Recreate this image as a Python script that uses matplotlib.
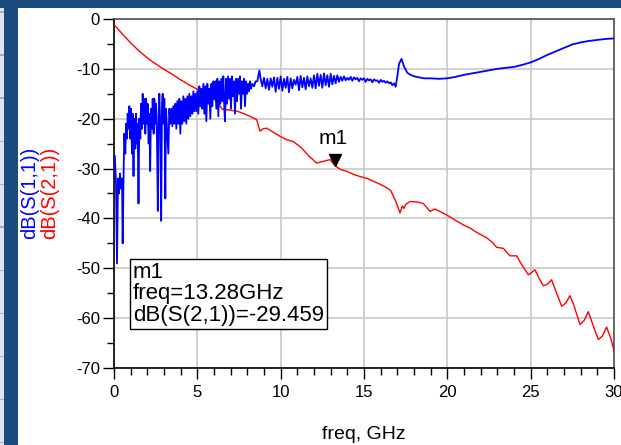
import numpy as np
import matplotlib
matplotlib.use("Agg")
import matplotlib.pyplot as plt
from matplotlib.patches import Rectangle
from matplotlib.ticker import MultipleLocator

plt.rcParams["font.family"] = ["Liberation Sans", "DejaVu Sans"]
plt.rcParams["axes.unicode_minus"] = False

# S(2,1) trace (freq GHz, dB)
s21_freq = [0.05, 0.5, 1.0, 1.5, 2.0, 2.5, 3.0, 3.5, 4.0, 4.5, 5.0, 5.5, 5.8, 6.2,
            6.5, 7.0, 7.4, 7.8, 8.2, 8.56, 8.76, 8.95, 9.16, 9.6, 10.0, 10.36,
            10.76, 11.2, 11.7, 12.16, 12.5, 12.96, 13.28, 13.6, 14.0, 14.4, 14.76,
            15.2, 15.6, 16.0, 16.3, 16.6, 16.9, 17.16, 17.3, 17.4, 17.5, 17.76,
            18.2, 18.56, 18.96, 19.26, 19.96, 20.5, 20.96, 21.4, 21.76, 22.1,
            22.36, 22.7, 22.96, 23.36, 23.76, 24.16, 24.5, 24.86, 25.0, 25.26,
            25.5, 25.76, 26.0, 26.26, 26.5, 26.86, 27.1, 27.36, 27.6, 27.96,
            28.2, 28.46, 28.75, 29.06, 29.3, 29.56, 29.8, 30.0]
s21_db = [-1.3, -3.0, -4.8, -6.4, -7.8, -9.0, -10.1, -11.1, -12.2, -13.2, -14.1,
          -15.2, -15.6, -16.6, -18.1, -18.3, -18.5, -19.0, -19.6, -20.2, -22.5,
          -22.0, -21.9, -22.8, -23.6, -24.2, -24.6, -25.7, -27.5, -28.9, -28.6,
          -28.2, -29.459, -30.2, -30.6, -31.2, -31.6, -32.0, -32.6, -33.2, -33.7,
          -34.4, -36.5, -38.9, -37.5, -38.0, -37.2, -36.6, -36.7, -37.0, -38.6,
          -38.1, -39.3, -40.4, -41.3, -42.0, -42.8, -43.4, -43.9, -44.8, -45.8,
          -46.0, -47.5, -47.5, -49.5, -51.3, -51.0, -50.3, -52.0, -53.5, -53.2,
          -52.3, -54.5, -57.6, -57.0, -55.5, -57.5, -61.3, -60.5, -58.7, -61.5,
          -64.3, -63.6, -61.8, -64.0, -66.5]

# S(1,1) trace (freq GHz, dB)
s11_freq = [0.05, 0.12, 0.18, 0.24, 0.30, 0.36, 0.42, 0.48, 0.52, 0.58, 0.62, 0.68,
            0.72, 0.78, 0.82, 0.88, 0.92, 0.98, 1.02, 1.08, 1.12, 1.17, 1.22, 1.28,
            1.32, 1.38, 1.42, 1.47, 1.52, 1.58, 1.62, 1.68, 1.72, 1.78, 1.82, 1.88,
            1.92, 1.98, 2.02, 2.08, 2.12, 2.17, 2.22, 2.28, 2.32, 2.38, 2.42, 2.48,
            2.52, 2.58, 2.63, 2.68, 2.72, 2.78, 2.83, 2.88, 2.92, 2.98, 3.02, 3.08,
            3.12, 3.18, 3.26, 3.32, 3.38, 3.44, 3.50, 3.56, 3.62, 3.68, 3.74, 3.80,
            3.86, 3.92, 3.98, 4.04, 4.10, 4.16, 4.22, 4.28, 4.34, 4.40, 4.46, 4.52,
            4.58, 4.64, 4.70, 4.76, 4.82, 4.88, 4.94, 5.00, 5.06, 5.12, 5.18, 5.24,
            5.30, 5.36, 5.42, 5.48, 5.54, 5.60, 5.66, 5.72, 5.78, 5.84, 5.90, 5.96,
            6.02, 6.08, 6.14, 6.20, 6.26, 6.32, 6.38, 6.44, 6.50, 6.56, 6.62, 6.66,
            6.72, 6.78, 6.84, 6.90, 6.96, 7.02, 7.08, 7.14, 7.20, 7.26, 7.32, 7.38,
            7.44, 7.50, 7.56, 7.62, 7.68, 7.74, 7.80, 7.86, 7.92, 7.98, 8.04, 8.10,
            8.16, 8.22, 8.30, 8.40, 8.50, 8.60, 8.72, 8.80,
            8.90, 9.00, 9.10, 9.20, 9.30, 9.40, 9.50, 9.60, 9.70, 9.80, 9.90, 10.00,
            10.10, 10.20, 10.30, 10.40, 10.50, 10.60, 10.70, 10.80, 10.90, 11.00,
            11.10, 11.20, 11.30, 11.40, 11.50, 11.60, 11.70, 11.80, 11.90, 12.00,
            12.10, 12.20, 12.30, 12.40, 12.50, 12.60, 12.70, 12.80, 12.90, 13.00,
            13.10, 13.20, 13.30, 13.40, 13.50, 13.60, 13.70, 13.80, 13.90, 14.00,
            14.10, 14.20, 14.30, 14.40, 14.50, 14.60, 14.70, 14.80, 14.90, 15.00,
            15.10, 15.20, 15.30, 15.40, 15.50, 15.60, 15.70, 15.80, 15.90, 16.00,
            16.10, 16.20, 16.30, 16.40, 16.50, 16.60, 16.70, 16.80, 16.90,
            17.0, 17.1, 17.25, 17.4, 17.6, 17.8, 18.0, 18.3, 18.6, 19.0, 19.5, 20.0,
            20.5, 21.0, 21.5, 22.0, 22.5, 23.0, 23.5, 24.0, 24.5, 25.0, 25.5, 26.0,
            26.5, 27.0, 27.5, 28.0, 28.5, 29.0, 29.5, 30.0]
s11_db = [-27.5, -33, -49, -32, -35, -31, -34, -32, -45, -30, -23, -27,
          -21, -24, -19, -22, -17.5, -24, -18, -27, -19, -31.5, -20, -26,
          -19, -25, -21, -37, -20, -24, -17, -22, -15, -21, -16, -23,
          -16, -21, -17, -25, -19, -30.5, -18, -22, -16, -23, -16, -21,
          -17, -24, -38.5, -19, -15, -22, -40.5, -17, -15, -21, -16, -36,
          -18, -22, -27, -18, -21, -18, -21.5, -17.5, -21, -17, -22, -16.5,
          -21, -16, -23, -16.5, -21, -15.5, -20.5, -16, -21, -15.5, -20, -15,
          -19.5, -15.5, -19, -14.5, -18.5, -15, -18.5, -14.5, -19, -13.5, -17.5, -14,
          -18, -13, -19, -13.5, -20.5, -13, -17, -14, -20, -13, -17.5, -12.5,
          -16, -12.5, -18, -12, -19.5, -12.5, -17, -12, -16.5, -11.5, -18, -20.5,
          -12, -17, -11.5, -16, -12, -18, -11.5, -15.5, -12.5, -19, -12, -16.5,
          -12, -15, -11.5, -18, -12.5, -15, -12, -17.5, -12.5, -15, -13, -14.5,
          -12.5, -14, -13, -13.5, -12.5, -12.5, -10.3, -12,
          -13.5, -11.8, -13.9, -12.0, -14.2, -11.9, -13.6, -11.7, -14.6, -11.8, -14.0, -11.5,
          -14.4, -12.0, -13.8, -11.6, -14.7, -11.9, -13.9, -12.2, -13.2, -11.6,
          -14.3, -11.4, -13.7, -11.8, -14.1, -11.5, -13.5, -11.9, -13.8, -11.3,
          -13.9, -11.0, -13.4, -11.2, -13.8, -10.9, -13.3, -11.3, -13.6, -11.0,
          -13.1, -11.4, -12.9, -11.3, -12.6, -11.6, -12.4, -11.5, -12.3, -11.8,
          -12.2, -11.6, -12.4, -11.7, -12.1, -11.8, -12.5, -11.9, -12.2, -11.9,
          -12.6, -12.0, -12.3, -12.1, -12.7, -12.1, -12.4, -12.3, -12.8, -12.2,
          -12.6, -12.4, -12.8, -12.5, -12.9, -12.7, -13.3, -12.9, -13.6,
          -11.5, -9.0, -8.0, -9.5, -10.8, -11.2, -11.5, -11.7, -11.9, -11.9, -12.0, -11.9,
          -11.6, -11.2, -10.9, -10.6, -10.3, -10.0, -9.8, -9.6, -9.2, -8.7, -8.0, -7.2,
          -6.5, -5.8, -5.1, -4.7, -4.4, -4.2, -4.0, -3.9]

# marker m1
m1_freq = 13.28
m1_db = -29.459

W, H = 621, 445
fig = plt.figure(figsize=(W / 100, H / 100), dpi=100)
fig.patch.set_facecolor("white")

# window chrome around the plot (blue frame, light strip at far left)
blue = "#1c4c7e"
fig.patches.append(Rectangle((0, 1 - 8 / H), 1, 8 / H, transform=fig.transFigure,
                             facecolor=blue, edgecolor="none", zorder=0))
fig.patches.append(Rectangle((0, 0), 18 / W, 1, transform=fig.transFigure,
                             facecolor=blue, edgecolor="none", zorder=0))
fig.patches.append(Rectangle((0, 0), 4 / W, 1 - 8 / H, transform=fig.transFigure,
                             facecolor="#dde4f1", edgecolor="none", zorder=1))
for yy in range(13, 445, 43):
    fig.patches.append(Rectangle((0, 1 - yy / H), 4 / W, 1.5 / H, transform=fig.transFigure,
                                 facecolor="#a8adb5", edgecolor="none", zorder=2))

ax = fig.add_axes([114 / W, 1 - 368 / H, 500 / W, 349 / H])

ax.plot(s21_freq, s21_db, color="#ff0000", lw=1.0, zorder=3)
ax.plot(s11_freq, s11_db, color="#0000ff", lw=1.3, zorder=4)

ax.set_xlim(0, 30)
ax.set_ylim(-70, 0)
ax.xaxis.set_major_locator(MultipleLocator(5))
ax.xaxis.set_minor_locator(MultipleLocator(1))
ax.yaxis.set_major_locator(MultipleLocator(10))
ax.yaxis.set_minor_locator(MultipleLocator(5))
ax.grid(True, which="major", color="#c8c8c8", lw=1.2, zorder=0)
ax.tick_params(which="major", direction="out", length=8, width=1, labelsize=12)
ax.tick_params(axis="x", which="major", pad=4)
ax.tick_params(axis="y", which="major", pad=2)
ax.tick_params(which="minor", direction="out", length=5, width=1)
for side in ("left", "bottom"):
    ax.spines[side].set_color("black")
    ax.spines[side].set_linewidth(1.2)
for side in ("top", "right"):
    ax.spines[side].set_color("#505050")
    ax.spines[side].set_linewidth(1.2)

ax.set_xlabel("freq, GHz", fontsize=14, labelpad=19)

# two-colour y label
fig.text(30 / W, 1 - 193 / H, "dB(S(1,1))", color="#0000ff", rotation=90,
         ha="center", va="center", fontsize=14.5)
fig.text(50 / W, 1 - 193 / H, "dB(S(2,1))", color="#ff0000", rotation=90,
         ha="center", va="center", fontsize=14.5)

# marker triangle with its tip on the trace
ax.plot([m1_freq], [m1_db], marker="v", color="black", markersize=9, zorder=5,
        transform=ax.transData + matplotlib.transforms.ScaledTranslation(0, 6 / 100, fig.dpi_scale_trans))
ax.annotate("m1", xy=(m1_freq, m1_db), xytext=(-2, 27), textcoords="offset pixels",
            ha="center", va="center", fontsize=15)

# readout box
readout = f"m1\nfreq={m1_freq:.2f}GHz\ndB(S(2,1))={m1_db:.3f}"
ax.text(0.038, 0.305, readout, transform=ax.transAxes, ha="left", va="top",
        fontsize=16, linespacing=1.05, zorder=6,
        bbox=dict(boxstyle="square,pad=0.12", facecolor="white", edgecolor="black", lw=1))

fig.savefig("out.png", dpi=100)
